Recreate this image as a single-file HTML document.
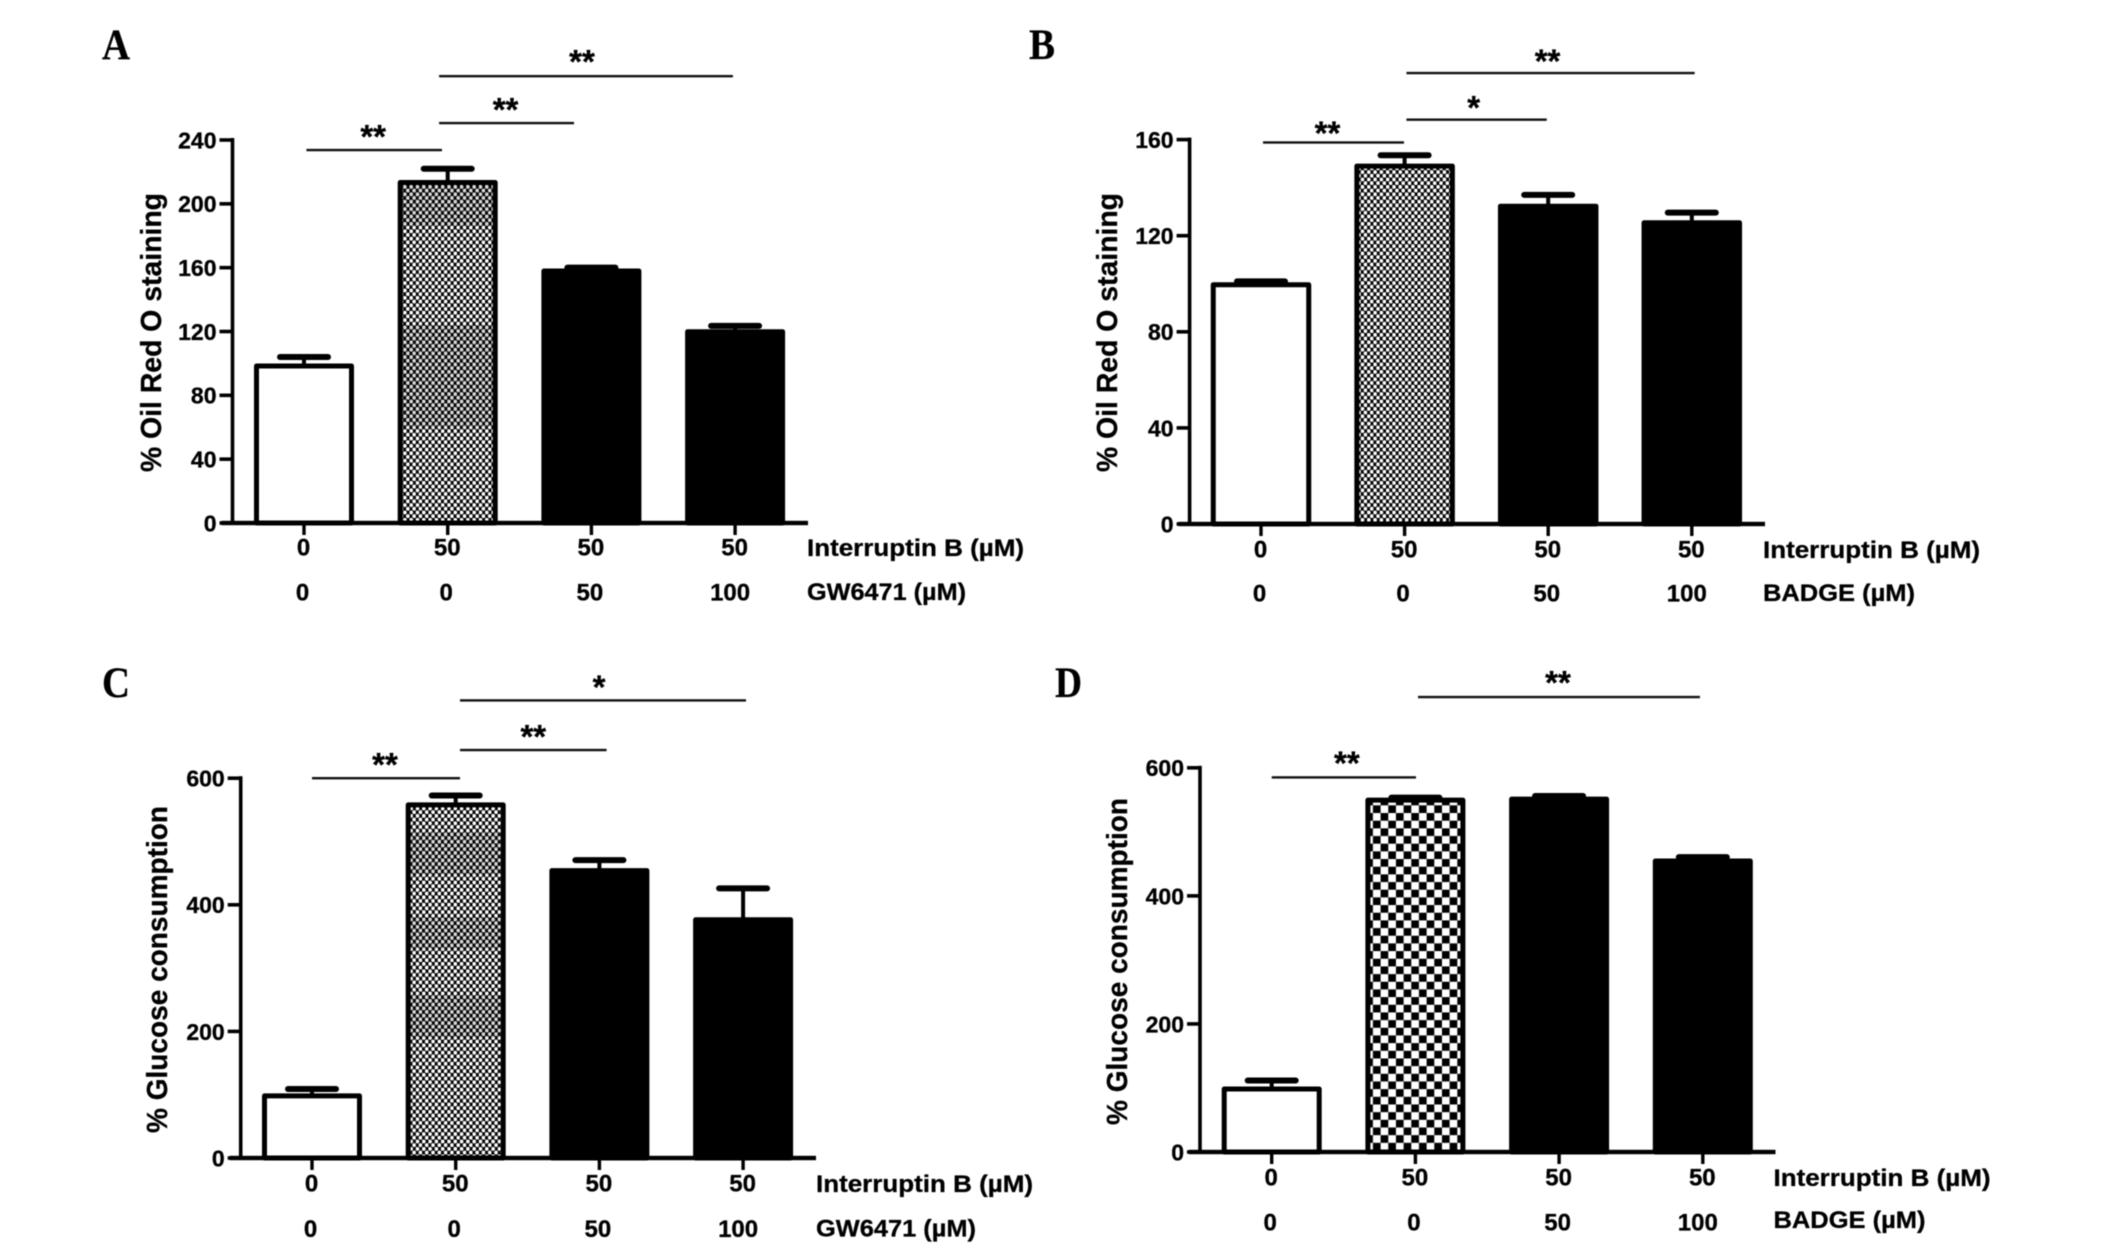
<!DOCTYPE html>
<html lang="en">
<head>
<meta charset="utf-8">
<title>Oil Red O staining and glucose consumption</title>
<style>
html,body{margin:0;padding:0;background:#fff;}
#figure{display:block;width:2126px;height:1247px;filter:blur(0.55px);}
text{font-family:"Liberation Sans",sans-serif;font-weight:bold;fill:#000;stroke:#000;stroke-width:0.3px;}
</style>
</head>
<body>
<svg id="figure" xmlns="http://www.w3.org/2000/svg" width="2126" height="1247" viewBox="0 0 2126 1247">
<defs>
<pattern id="dots" width="6.3" height="7.4" patternUnits="userSpaceOnUse">
<rect width="6.3" height="7.4" fill="#000"/>
<circle cx="1.6" cy="1.85" r="1.95" fill="#fff"/>
<circle cx="4.75" cy="5.55" r="1.95" fill="#fff"/>
</pattern>
<pattern id="checks" width="15.34" height="15.34" patternUnits="userSpaceOnUse">
<rect width="15.34" height="15.34" fill="#fff"/>
<rect x="0" y="0" width="7.67" height="7.67" fill="#000"/>
<rect x="7.67" y="7.67" width="7.67" height="7.67" fill="#000"/>
</pattern>
</defs>
</svg>
<script>
// Panel A data
const panelAValues = [99, 214, 158.5, 120.5];
const panelAErrorTops = [104, 222, 160, 123.5];
const panelATicks = [0, 40, 80, 120, 160, 200, 240];
const panelABrackets = [[0.017, 0.96, 233.7, '**'], [0.94, 1.879, 250.6, '**'], [0.94, 2.985, 280, '**']];
// Panel B data
const panelBValues = [100, 149.4, 132.7, 125.8];
const panelBErrorTops = [101, 153.5, 137, 129.6];
const panelBTicks = [0, 40, 80, 120, 160];
const panelBBrackets = [[0.014, 0.996, 158.8, '**'], [1.013, 1.99, 168.3, '*'], [1.013, 3.02, 187.7, '**']];
// Panel C data
const panelCValues = [99.7, 559.5, 455.6, 378];
const panelCErrorTops = [109, 572.6, 470.6, 426];
const panelCTicks = [0, 200, 400, 600];
const panelCBrackets = [[0, 1.03, 600, '**'], [1.03, 2.05, 644.5, '**'], [1.03, 3.02, 722.9, '*']];
// Panel D data
const panelDValues = [100, 551, 552.6, 456];
const panelDErrorTops = [111.6, 553.5, 556, 460.5];
const panelDTicks = [0, 200, 400, 600];
const panelDBrackets = [[0, 1.004, 585, '**'], [1.018, 2.98, 710.5, '**']];
// Category labels
const interruptinDoses = ['0', '50', '50', '50'];
const gw6471Doses = ['0', '0', '50', '100'];
const badgeDoses = ['0', '0', '50', '100'];

const svg = document.getElementById('figure');
const NS = 'http://www.w3.org/2000/svg';

function mk(tag, attrs, parent, txt) {
  const el = document.createElementNS(NS, tag);
  for (const k in attrs) el.setAttribute(k, attrs[k]);
  if (txt !== undefined) el.textContent = txt;
  parent.appendChild(el);
  return el;
}

function drawPanel(p) {
  const g = mk('g', {}, svg);
  
  

  const yScale = v => p.y0 - (v - 0) * (p.y0 - p.yTop) / p.ticks[p.ticks.length - 1];
  const xScale = c => p.x0 + c * p.step;

  const letter = mk('text', {x: p.letterX, y: p.letterY, 'font-size': 43, textLength: p.letterW, lengthAdjust: 'spacingAndGlyphs', style: 'font-family:"Liberation Serif",serif'}, g, p.id);
  
  

  const title = mk('text', {transform: 'translate(' + p.titleX + ',' + p.titleBottom + ') rotate(-90)', 'font-size': 29, textLength: p.titleLen, lengthAdjust: 'spacingAndGlyphs'}, g, p.title);
  
  

  p.values.forEach((v, i) => {
    const cx = xScale(i);
    const top = yScale(v);
    const capY = yScale(p.errs[i]);

    const stem = mk('rect', {x: cx - 2, y: capY, width: 4, height: top - capY + (i === 0 ? 5 : 2), fill: '#000'}, g);
    
    

    const cap = mk('rect', {x: cx - 27, y: capY - 3, width: 54, height: 6, rx: 3, fill: '#000'}, g);
    
    

    const fill = i === 0 ? '#fff' : (i === 1 ? 'url(#' + p.hatch + ')' : '#000');
    const bar = mk('rect', {x: cx - p.barW / 2 + 2, y: top + 1, width: p.barW - 4, height: p.y0 - top - 1, fill: fill, stroke: '#000', 'stroke-width': 5, 'stroke-linejoin': 'round'}, g);
    
    

    if (i === 1) {
      p.bands.forEach(b => {
        const h = p.y0 - top;
        const band = mk('rect', {x: cx - p.barW / 2 + 4.5, y: top + b[0] * h, width: p.barW - 9, height: (b[1] - b[0]) * h, fill: '#000', opacity: 0.14}, g);
        
        
      });
    }

    const tick = mk('rect', {x: cx - 1.7, y: p.y0, width: 3.4, height: 12, fill: '#000'}, g);
    
    

    const l1 = mk('text', {x: cx - 0.5, y: p.row1Y + 8.5, 'font-size': 24, 'text-anchor': 'middle'}, g, p.row1[i]);
    
    

    const l2 = mk('text', {x: cx + (i === 3 ? -5 : -1.5), y: p.row2Y + 8.5, 'font-size': 24, 'text-anchor': 'middle'}, g, p.row2[i]);
    
    
  });

  const yAxis = mk('rect', {x: p.axisX - 1.8, y: p.yTop - 2, width: 3.6, height: p.y0 - p.yTop + 2, fill: '#000'}, g);
  
  

  const xAxis = mk('rect', {x: p.axisX - 11, y: p.y0 - 2.2, width: p.xEnd - p.axisX + 11, height: 4.4, fill: '#000'}, g);
  
  

  p.ticks.forEach(t => {
    const ty = yScale(t);
    const tk = mk('rect', {x: p.axisX - 13, y: ty - 1.8, width: 13, height: 3.6, fill: '#000'}, g);
    
    
    const tl = mk('text', {x: p.axisX - 16, y: ty + 8.4, 'font-size': 23, 'text-anchor': 'end'}, g, String(t));
    
    
  });

  const r1 = mk('text', {x: p.labelX, y: p.row1Y + 9, 'font-size': 24, textLength: 217, lengthAdjust: 'spacingAndGlyphs'}, g, 'Interruptin B (µM)');
  
  

  const r2 = mk('text', {x: p.labelX, y: p.row2Y + p.row2LabelDy, 'font-size': 24, textLength: p.row2LabelW, lengthAdjust: 'spacingAndGlyphs'}, g, p.row2Label);
  
  

  p.brackets.forEach((b, i) => {
    const x1 = xScale(b[0]);
    const x2 = xScale(b[1]);
    const by = yScale(b[2]);
    const line = mk('rect', {x: x1, y: by - 1.2, width: x2 - x1, height: 2.4, fill: '#111'}, g);
    
    
    const star = mk('text', {x: (x1 + x2) / 2 - 1 + p.starDx[i], y: by + 1 + p.starDy[i], 'font-size': 33, 'text-anchor': 'middle'}, g, b[3]);
    
    
  });
}

drawPanel({id: 'A', values: panelAValues, errs: panelAErrorTops, ticks: panelATicks, brackets: panelABrackets,
  row1: interruptinDoses, row2: gw6471Doses, row2Label: 'GW6471 (µM)', row2LabelW: 159,
  title: '% Oil Red O staining', titleX: 161, titleBottom: 472, titleLen: 279,
  axisX: 232.5, xEnd: 808, y0: 523, yTop: 140, x0: 304, step: 143.7, barW: 99, row1Y: 547, row2Y: 592,
  labelX: 807, row2LabelDy: 8, starDx: [0, 0, -3], starDy: [-3, -3, -4],
  hatch: 'dots', bands: [[0, 0.13], [0.42, 0.72]], letterX: 102, letterY: 59, letterW: 28});

drawPanel({id: 'B', values: panelBValues, errs: panelBErrorTops, ticks: panelBTicks, brackets: panelBBrackets,
  row1: interruptinDoses, row2: badgeDoses, row2Label: 'BADGE (µM)', row2LabelW: 152,
  title: '% Oil Red O staining', titleX: 1117, titleBottom: 472, titleLen: 279,
  axisX: 1189.6, xEnd: 1765, y0: 524, yTop: 139.6, x0: 1261, step: 143.6, barW: 99.5, row1Y: 549, row2Y: 593,
  labelX: 1763, row2LabelDy: 8, starDx: [-5, -2, -2], starDy: [1, -1.5, -1.5],
  hatch: 'dots', bands: [], letterX: 1029, letterY: 59, letterW: 26});

drawPanel({id: 'C', values: panelCValues, errs: panelCErrorTops, ticks: panelCTicks, brackets: panelCBrackets,
  row1: interruptinDoses, row2: gw6471Doses, row2Label: 'GW6471 (µM)', row2LabelW: 160,
  title: '% Glucose consumption', titleX: 167, titleBottom: 1133, titleLen: 327,
  axisX: 240.7, xEnd: 816, y0: 1158, yTop: 778.2, x0: 312, step: 143.7, barW: 99, row1Y: 1183, row2Y: 1228.5,
  labelX: 816, row2LabelDy: 8, starDx: [0, 1, -3], starDy: [-3, -3, -3],
  hatch: 'dots', bands: [[0.08, 0.2], [0.32, 0.41], [0.54, 0.66]], letterX: 102, letterY: 697, letterW: 28});

drawPanel({id: 'D', values: panelDValues, errs: panelDErrorTops, ticks: panelDTicks, brackets: panelDBrackets,
  row1: interruptinDoses, row2: badgeDoses, row2Label: 'BADGE (µM)', row2LabelW: 152,
  title: '% Glucose consumption', titleX: 1127, titleBottom: 1125, titleLen: 327,
  axisX: 1200, xEnd: 1775.5, y0: 1152, yTop: 767.8, x0: 1271.7, step: 143.7, barW: 99, row1Y: 1177, row2Y: 1222,
  labelX: 1773.5, row2LabelDy: 6, starDx: [4, 0], starDy: [-4, -4],
  hatch: 'checks', bands: [], letterX: 1055, letterY: 697, letterW: 27});
</script>
</body>
</html>
